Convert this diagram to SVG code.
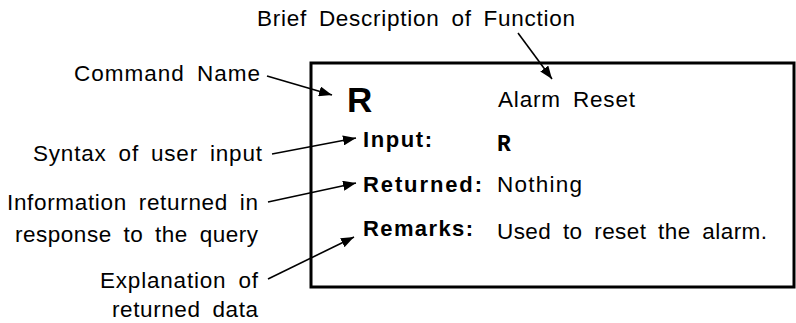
<svg xmlns="http://www.w3.org/2000/svg" width="796" height="323" viewBox="0 0 796 323">
<style>
text{font-family:"Liberation Sans",Arial,sans-serif;font-size:22.5px;fill:#000;word-spacing:5px}
.b{font-weight:bold;font-size:22px}
.mono{font-family:"Liberation Mono","Courier New",monospace;font-weight:bold;font-size:23px}
.big{font-weight:bold;font-size:35px}
.conn line{stroke:#000;stroke-width:1.6;marker-end:url(#ah)}
</style>
<defs>
<marker id="ah" markerUnits="userSpaceOnUse" markerWidth="13" markerHeight="10" refX="13" refY="5" orient="auto">
<path d="M0,0 L13,5 L0,10 z" fill="#000"/>
</marker>
</defs>
<g id="box">
<rect x="311" y="63" width="483" height="224" fill="#fff" stroke="#000" stroke-width="3"/>
<text class="big" x="347" y="112">R</text>
<text x="498" y="107" textLength="137" lengthAdjust="spacing">Alarm Reset</text>
<text class="b" x="363" y="147" textLength="69" lengthAdjust="spacing">Input:</text>
<text class="mono" x="497" y="151">R</text>
<text class="b" x="363" y="192" textLength="119" lengthAdjust="spacing">Returned:</text>
<text x="497" y="192" textLength="85" lengthAdjust="spacing">Nothing</text>
<text class="b" x="363" y="236" textLength="110" lengthAdjust="spacing">Remarks:</text>
<text x="497" y="239" textLength="270" lengthAdjust="spacing">Used to reset the alarm.</text>
</g>
<g id="label-brief"><text x="257" y="26" textLength="318" lengthAdjust="spacing">Brief Description of Function</text></g>
<g id="label-command"><text x="74" y="81" textLength="186" lengthAdjust="spacing">Command Name</text></g>
<g id="label-syntax"><text x="33" y="161" textLength="229" lengthAdjust="spacing">Syntax of user input</text></g>
<g id="label-info">
<text x="7" y="210" textLength="251" lengthAdjust="spacing">Information returned in</text>
<text x="15" y="242" textLength="243" lengthAdjust="spacing">response to the query</text>
</g>
<g id="label-explain">
<text x="100" y="288" textLength="158" lengthAdjust="spacing">Explanation of</text>
<text x="112" y="317" textLength="146" lengthAdjust="spacing">returned data</text>
</g>
<g id="connectors" class="conn">
<line x1="518" y1="33" x2="552" y2="79"/>
<line x1="267" y1="76" x2="332" y2="95"/>
<line x1="272" y1="154" x2="356" y2="138"/>
<line x1="268" y1="202" x2="356" y2="183"/>
<line x1="268" y1="279" x2="354" y2="237"/>
</g>
</svg>
